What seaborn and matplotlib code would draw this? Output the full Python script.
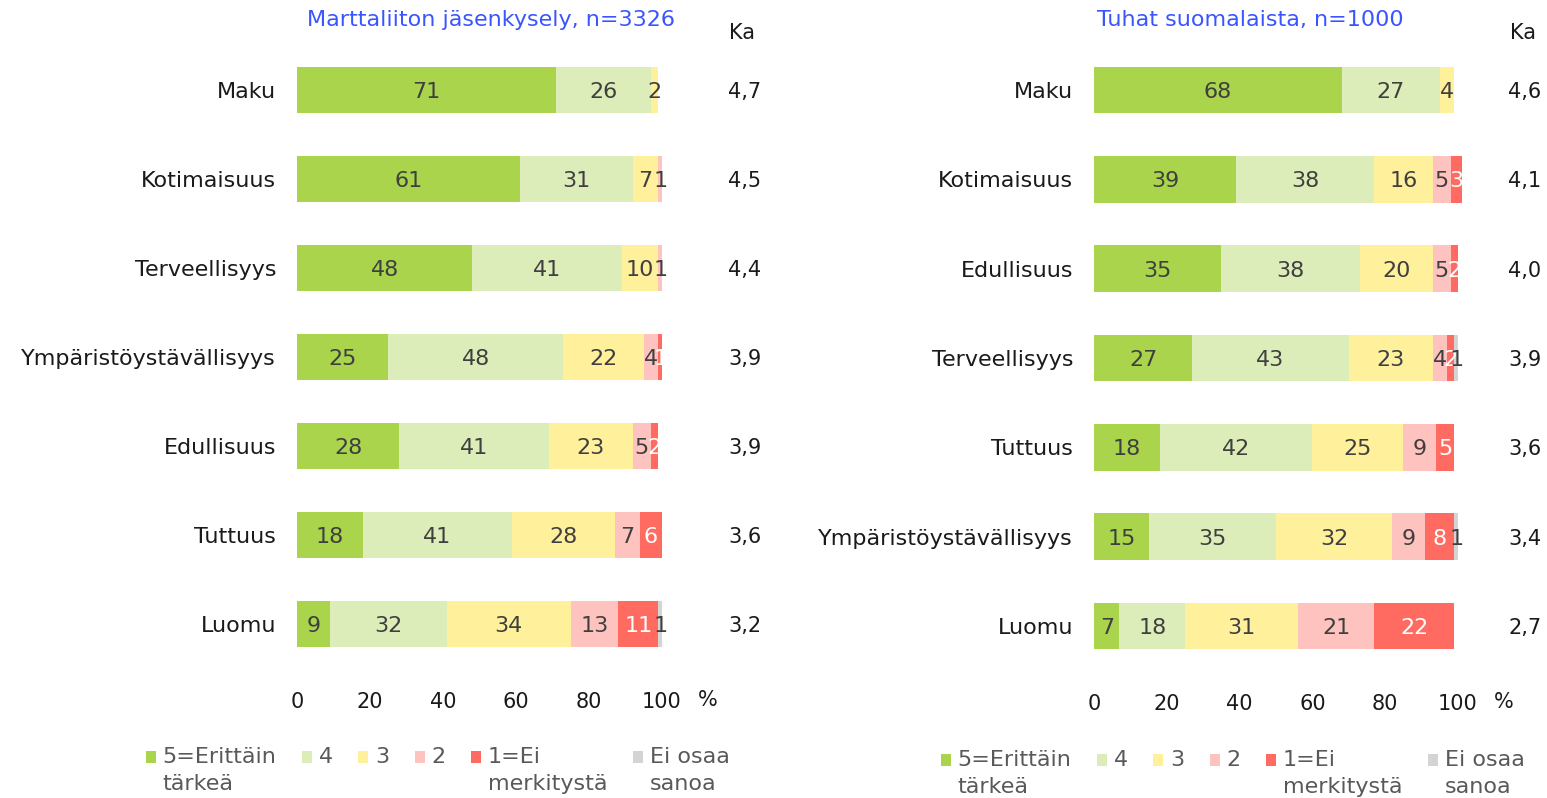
import numpy as np
import pandas as pd
import matplotlib
matplotlib.use("Agg")
import matplotlib.pyplot as plt
from matplotlib.patches import Patch, Rectangle
from matplotlib.legend_handler import HandlerPatch
import seaborn as sns

# Survey 1: Marttaliiton jäsenkysely
left_title = "Marttaliiton jäsenkysely, n=3326"
left_items = ["Maku", "Kotimaisuus", "Terveellisyys", "Ympäristöystävällisyys",
              "Edullisuus", "Tuttuus", "Luomu"]
left_5 = [71, 61, 48, 25, 28, 18, 9]
left_4 = [26, 31, 41, 48, 41, 41, 32]
left_3 = [2, 7, 10, 22, 23, 28, 34]
left_2 = [0, 1, 1, 4, 5, 7, 13]
left_1 = [0, 0, 0, 1, 2, 6, 11]
left_eos = [0, 0, 0, 0, 0, 0, 1]
left_ka = ["4,7", "4,5", "4,4", "3,9", "3,9", "3,6", "3,2"]

# Survey 2: Tuhat suomalaista
right_title = "Tuhat suomalaista, n=1000"
right_items = ["Maku", "Kotimaisuus", "Edullisuus", "Terveellisyys", "Tuttuus",
               "Ympäristöystävällisyys", "Luomu"]
right_5 = [68, 39, 35, 27, 18, 15, 7]
right_4 = [27, 38, 38, 43, 42, 35, 18]
right_3 = [4, 16, 20, 23, 25, 32, 31]
right_2 = [0, 5, 5, 4, 9, 9, 21]
right_1 = [0, 3, 2, 2, 5, 8, 22]
right_eos = [0, 0, 0, 1, 0, 1, 0]
right_ka = ["4,6", "4,1", "4,0", "3,9", "3,6", "3,4", "2,7"]

levels = ["5=Erittäin\ntärkeä", "4\n ", "3\n ", "2\n ", "1=Ei\nmerkitystä", "Ei osaa\nsanoa"]
colors = ["#A9D44C", "#DDEDBA", "#FFF09B", "#FFC3BF", "#FF6B61", "#D4D4D4"]
label_colors = ["#3F3F3F", "#3F3F3F", "#3F3F3F", "#3F3F3F", "#FFFFFF", "#3F3F3F"]
xticks = [0, 20, 40, 60, 80, 100]

sns.set_theme(style="white")
plt.rcParams["font.family"] = ["DejaVu Sans"]

fig = plt.figure(figsize=(15.47, 7.98), dpi=100)
W, H = 1547, 798
TXT = "#1A1A1A"


def panel(rect, items, series, ka, title, title_x, ka_head_x, ka_x):
    ax = fig.add_axes(rect)
    left = np.zeros(len(items))
    for vals, col, tcol in zip(series, colors, label_colors):
        vals = np.asarray(vals, dtype=float)
        df = pd.DataFrame({"item": items, "value": vals})
        sns.barplot(data=df, x="value", y="item", order=items, orient="h",
                    color=col, width=0.52, saturation=1, errorbar=None,
                    left=left, linewidth=0, clip_on=False, ax=ax)
        for i, v in enumerate(vals):
            if v > 0:
                ax.text(left[i] + v / 2, i, f"{int(v)}", ha="center", va="center_baseline",
                        fontsize=16, color=tcol, clip_on=False)
        left = left + vals
    ax.set_xlim(0, 100)
    ax.set_ylim(6.5, -0.5)
    ax.set_xticks(xticks)
    ax.set_xticklabels([str(t) for t in xticks], fontsize=15, color=TXT)
    ax.tick_params(axis="x", length=0, pad=17)
    ax.tick_params(axis="y", length=0, pad=15, labelsize=16, labelcolor=TXT)
    ax.set_xlabel("")
    ax.set_ylabel("")
    for s in ax.spines.values():
        s.set_visible(False)
    ax.text(112.6, -0.05, "%", transform=ax.get_xaxis_transform(), ha="center",
            va="center", fontsize=15, color=TXT)
    ax.text(ka_head_x, -0.64, "Ka", ha="center", va="center", fontsize=15, color=TXT)
    for i, k in enumerate(ka):
        ax.text(ka_x, i, k, ha="center", va="center_baseline", fontsize=15, color=TXT)
    fig.text(title_x / W, 1 - 20 / H, title, ha="center", va="center",
             fontsize=16, color="#3A55FF")
    return ax


lseries = [left_5, left_4, left_3, left_2, left_1, left_eos]
rseries = [right_5, right_4, right_3, right_2, right_1, right_eos]

panel([297 / W, 1 - 668.5 / H, 365 / W, 623 / H], left_items, lseries, left_ka,
      left_title, 491, 121.9, 122.7)
panel([1094 / W, 1 - 670.7 / H, 364 / W, 625.4 / H], right_items, rseries, right_ka,
      right_title, 1250, 117.9, 118.4)


# square legend keys sit level with the first line of each two-line label
def top_square(legend, orig_handle, xdescent, ydescent, width, height, fontsize):
    return Rectangle((-xdescent, -ydescent + 10.0), width, height)


handles = [Patch(facecolor=c, edgecolor="none") for c in colors]
for x0, y0 in [(146, 747), (941, 750)]:
    leg = fig.legend(handles, levels, loc="upper left", bbox_to_anchor=(x0 / W, 1 - y0 / H),
                     ncol=6, frameon=False, fontsize=16, handlelength=0.45, handleheight=0.45,
                     handletextpad=0.3, columnspacing=1.15, borderpad=0, borderaxespad=0,
                     labelcolor="#595959",
                     handler_map={Patch: HandlerPatch(patch_func=top_square)})
    for t in leg.get_texts():
        t.set_linespacing(1.45)

fig.savefig("out.png", dpi=100)
